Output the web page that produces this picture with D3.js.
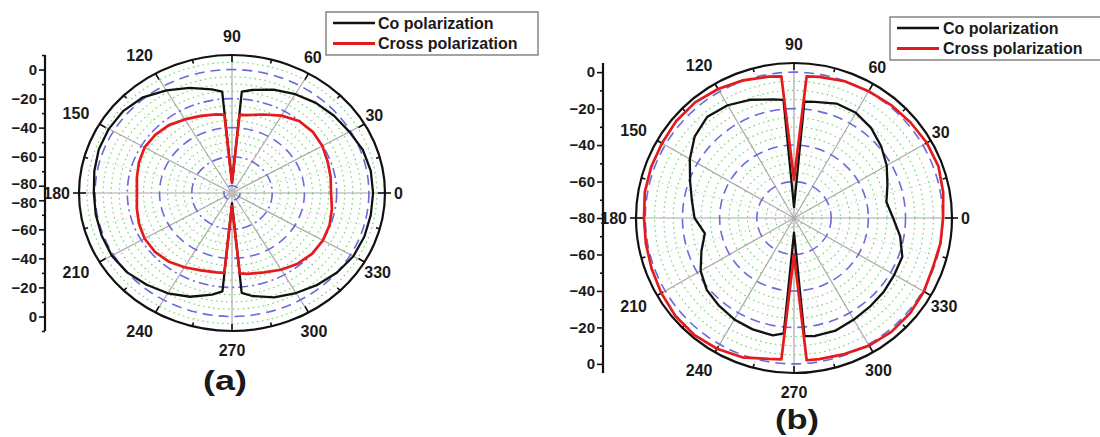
<!DOCTYPE html>
<html>
<head>
<meta charset="utf-8">
<script src="https://cdn.jsdelivr.net/npm/d3@7"></script>
<style>
  body { margin: 0; background: #fff; }
  text { font-family: "Liberation Sans", Arial, sans-serif; font-weight: bold; fill: #1a1a1a; }
</style>
</head>
<body>
<script>
var width = 1100, height = 437;

// sample angles (deg) shared by all series
var angles = [0,10,20,30,40,50,60,70,80,85,90,95,100,110,120,130,140,150,160,170,180,
              190,200,210,220,230,240,250,260,265,270,275,280,290,300,310,320,330,340,350,360];

// (a) values in dB
var coA    = [2.6,2.5,1.5,-0.8,-2.3,-4.0,-6.5,-9.3,-13,-15,-78,-15,-12.5,-8,-3.5,1.0,3.0,3.3,3.0,1.8,0.8,
              0.9,1.1,1.2,0.0,-2.5,-5.3,-9.0,-14,-17,-78,-16,-13,-8.5,-5.5,-2.5,0.2,2.0,2.5,2.5,2.6];
var crossA = [-23.5,-22.8,-21.8,-20.2,-19.5,-20.3,-23.5,-27.5,-30.5,-31,-78,-31,-30,-28.5,-26.5,-24,-22.8,-22.3,-23.5,-25,-26,
              -25,-23.5,-22.3,-22.3,-23.5,-26,-28.3,-29.5,-29.8,-76,-29.5,-28.5,-26.8,-24,-21.5,-20,-19.8,-20.5,-22,-23.5];

// (b) values in dB
var coB    = [-26.7,-29.5,-26.5,-22.4,-18.8,-15.5,-13.4,-13.2,-15.3,-16,-74,-15,-14,-11,-8.6,-7.5,-10.3,-15.3,-20.5,-24.2,-26.5,
              -31.3,-27,-22,-18.7,-17.2,-15.8,-15,-14.6,-16.5,-72,-15,-14.3,-14.3,-15.7,-16.5,-17,-17.7,-18,-22,-26.7];
var crossB = [0.2,1.5,2.7,2.5,1.7,1.0,0.3,-0.2,-1.4,-2.0,-59,-2.0,-1.3,0.3,1.7,2.8,2.7,2.0,1.8,1.5,0.7,
              0.9,1.5,2.4,3.4,3.6,2.8,1.3,-1.5,-2.2,-60,-1.7,-1.4,-0.6,0.8,1.5,1.4,0.7,-0.5,0.0,0.2];

var angleTicks = [0,30,60,90,120,150,180,210,240,270,300,330];
var radMajor = [0,-20,-40,-60,-80];
var radMinor = [-10,-30,-50,-70];
var legendNames = ["Co polarization", "Cross polarization"];
var colors = ["#111", "#e41a1c"];

var svg = d3.select("body").append("svg")
  .attr("width", width).attr("height", height);

function panel(cfg) {
  var g = svg.append("g");
  var r = d3.scaleLinear().domain(cfg.domain).range([0, 1]);
  var rad = function(a) { return a * Math.PI / 180; };
  var px = function(a, v) { return cfg.cx + cfg.rx * r(v) * Math.cos(rad(a)); };
  var py = function(a, v) { return cfg.cy - cfg.ry * r(v) * Math.sin(rad(a)); };
  var top = cfg.domain[1];

  // green minor rings every 5 dB
  var rings = d3.range(-80, top, 5).filter(function(v) { return v % 20 !== 0; });
  g.selectAll(".minor").data(rings).enter().append("ellipse")
    .attr("cx", cfg.cx).attr("cy", cfg.cy)
    .attr("rx", function(v) { return cfg.rx * r(v); })
    .attr("ry", function(v) { return cfg.ry * r(v); })
    .attr("fill", "none").attr("stroke", "#6fd86f")
    .attr("stroke-width", 1.2).attr("stroke-dasharray", "1.5,3.5");

  // dotted spokes every 30 starting at 15
  g.selectAll(".dspoke").data(d3.range(15, 360, 30)).enter().append("line")
    .attr("x1", cfg.cx).attr("y1", cfg.cy)
    .attr("x2", function(a) { return px(a, top); })
    .attr("y2", function(a) { return py(a, top); })
    .attr("stroke", "#cfcfcf").attr("stroke-dasharray", "1.5,3");

  // solid spokes
  g.selectAll(".spoke").data(angleTicks).enter().append("line")
    .attr("x1", cfg.cx).attr("y1", cfg.cy)
    .attr("x2", function(a) { return px(a, top); })
    .attr("y2", function(a) { return py(a, top); })
    .attr("stroke", "#a8a8a8").attr("stroke-width", 1.2);

  // blue major rings
  g.selectAll(".major").data(radMajor).enter().append("ellipse")
    .attr("cx", cfg.cx).attr("cy", cfg.cy)
    .attr("rx", function(v) { return cfg.rx * r(v); })
    .attr("ry", function(v) { return cfg.ry * r(v); })
    .attr("fill", "none").attr("stroke", "#6a6ad8")
    .attr("stroke-width", 1.6)
    .attr("stroke-dasharray", function(v, i) { return (cfg.dashdot && i % 2 === 1) ? "10,4,2,4" : "10,6"; });

  if (cfg.hole) {
    g.append("circle").attr("cx", cfg.cx).attr("cy", cfg.cy).attr("r", 4)
      .attr("fill", "#bbb");
  }

  // outer ring
  g.append("ellipse")
    .attr("cx", cfg.cx).attr("cy", cfg.cy)
    .attr("rx", cfg.rx).attr("ry", cfg.ry)
    .attr("fill", "none").attr("stroke", "#111").attr("stroke-width", 2.2);

  // ticks on outer ring
  g.selectAll(".otick").data(d3.range(0, 360, 15)).enter().append("line")
    .attr("x1", function(a) { return px(a, top); })
    .attr("y1", function(a) { return py(a, top); })
    .attr("x2", function(a) { var k = a % 30 === 0 ? 7 : 4; return cfg.cx + (cfg.rx - k) * Math.cos(rad(a)); })
    .attr("y2", function(a) { var k = a % 30 === 0 ? 7 : 4; return cfg.cy - (cfg.ry - k) * Math.sin(rad(a)); })
    .attr("stroke", "#111").attr("stroke-width", 1.6);
  [0, 180].forEach(function(a) {
    g.append("line")
      .attr("x1", px(a, top)).attr("y1", cfg.cy)
      .attr("x2", px(a, top) + (a === 0 ? 6 : -6)).attr("y2", cfg.cy)
      .attr("stroke", "#111").attr("stroke-width", 1.6);
  });

  // angle labels
  g.selectAll(".alab").data(angleTicks).enter().append("text")
    .attr("font-size", 16)
    .attr("text-anchor", "middle")
    .attr("dy", "0.36em")
    .text(function(a) { return a; })
    .each(function(a) {
      var w = this.getComputedTextLength();
      var c = Math.cos(rad(a)), s = Math.sin(rad(a));
      var d = 9 + (w / 2) * Math.abs(c) + 10 * Math.pow(s, 4);
      var dx = -6 * Math.abs(Math.sin(rad(2 * a)));
      d3.select(this)
        .attr("x", cfg.cx + (cfg.rx + d) * c + dx)
        .attr("y", cfg.cy - (cfg.ry + d) * s);
    });

  // data curves
  var line = d3.line()
    .x(function(d) { return px(d[0], d[1]); })
    .y(function(d) { return py(d[0], d[1]); });
  [cfg.co, cfg.cross].forEach(function(vals, k) {
    g.append("path")
      .datum(angles.map(function(a, i) { return [a, vals[i]]; }))
      .attr("d", line)
      .attr("fill", "none")
      .attr("stroke", colors[k])
      .attr("stroke-width", k === 0 ? 2.3 : 2.7)
      .attr("stroke-linejoin", "round");
  });

  // radial axis on the left, mirrored above and below the centre
  var ax = g.append("g").attr("transform", "translate(" + cfg.axisX + ",0)");
  [[cfg.cy, cfg.cy - cfg.ry], [cfg.cy, cfg.cy + cfg.ry]].forEach(function(rg, half) {
    var ys = d3.scaleLinear().domain(cfg.domain).range(rg);
    // lower half drops a label that would sit on the upper one
    var majors = radMajor.filter(function(v) { return half === 0 || r(v) > 0.01; });
    var a1 = ax.append("g").call(d3.axisLeft(ys).tickValues(majors).tickSize(6).tickSizeOuter(0).tickPadding(2));
    var a2 = ax.append("g").call(d3.axisLeft(ys).tickValues(cfg.minorTicks).tickSize(3).tickSizeOuter(0).tickFormat(""));
    [a1, a2].forEach(function(a) {
      a.select(".domain").remove();
      a.selectAll("line").attr("stroke", "#111").attr("stroke-width", 1.6);
      a.selectAll("text").attr("font-size", 15).attr("fill", "#1a1a1a")
        .style("font-family", "'Liberation Sans', Arial, sans-serif").style("font-weight", "bold");
    });
    // the two -80 labels near the centre sit close; nudge them apart
    if (r(-80) > 0.01) {
      a1.selectAll("text").filter(function(d) { return d === -80; })
        .attr("transform", "translate(0," + (half === 0 ? -2 : 2) + ")");
    }
  });
  ax.append("line").attr("x1", 0).attr("x2", 0)
    .attr("y1", cfg.cy - cfg.ry).attr("y2", cfg.cy + cfg.ry)
    .attr("stroke", "#111").attr("stroke-width", 2.2);

  // legend
  var lg = svg.append("g").attr("transform", "translate(" + cfg.legX + "," + cfg.legY + ")");
  lg.append("rect").attr("x", 0).attr("y", 0).attr("width", 212).attr("height", 43)
    .attr("fill", "#fff").attr("stroke", "#666").attr("stroke-width", 1.2);
  legendNames.forEach(function(name, i) {
    lg.append("line").attr("x1", 7).attr("x2", 49)
      .attr("y1", 11 + i * 20.5).attr("y2", 11 + i * 20.5)
      .attr("stroke", colors[i]).attr("stroke-width", i === 0 ? 2.4 : 3);
    lg.append("text").attr("x", cfg.legText).attr("y", 16.5 + i * 20.5)
      .attr("font-size", 16).text(name);
  });

  // panel label
  svg.append("text")
    .attr("x", cfg.labX).attr("y", cfg.labY)
    .attr("text-anchor", "middle")
    .attr("font-size", 28)
    .attr("fill", "#111")
    .attr("textLength", 44).attr("lengthAdjust", "spacingAndGlyphs")
    .text(cfg.label);
}

panel({ cx: 232, cy: 193, rx: 153, ry: 138, domain: [-85, 10], axisX: 45,
        minorTicks: [10, -10, -30, -50, -70], co: coA, cross: crossA,
        dashdot: true, hole: true,
        legX: 326, legY: 12, legText: 52, labX: 225, labY: 390, label: "(a)" });

panel({ cx: 794, cy: 218, rx: 158, ry: 155, domain: [-80, 5], axisX: 603,
        minorTicks: radMinor, co: coB, cross: crossB,
        dashdot: false, hole: false,
        legX: 890, legY: 17, legText: 53, labX: 797, labY: 429, label: "(b)" });
</script>
</body>
</html>
